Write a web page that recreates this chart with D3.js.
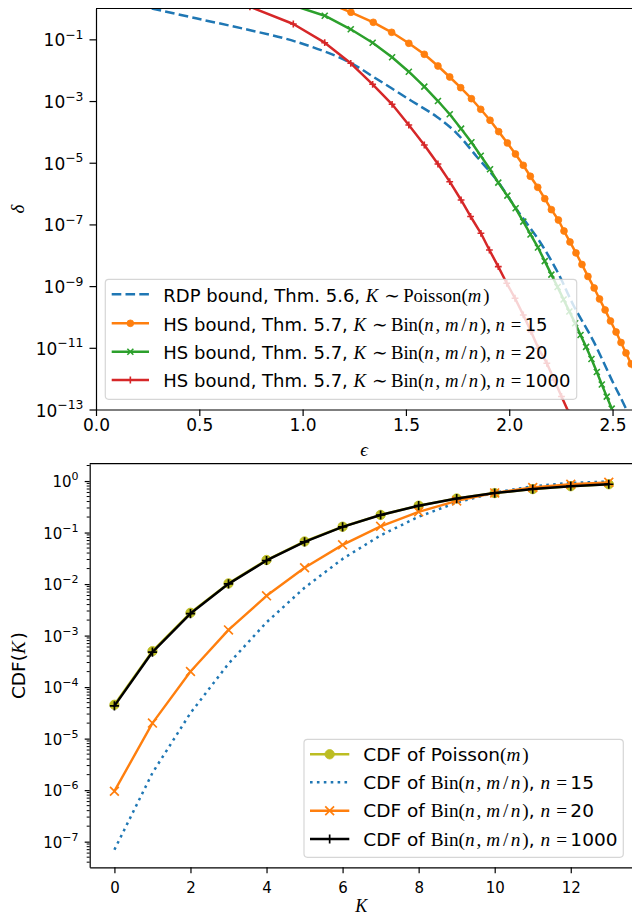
<!DOCTYPE html>
<html>
<head>
<meta charset="utf-8">
<script src="https://cdn.jsdelivr.net/npm/d3@7"></script>
<style>
  body { margin: 0; background: #fff; }
  svg { display: block; }
</style>
</head>
<body>
<svg id="fig" width="632" height="914"></svg>
<script>
// ---------- Upper panel: privacy profile delta(epsilon) ----------
const epsRdp   = [0.27, 0.484, 0.726, 0.968, 1.210, 1.359, 1.520, 1.649, 1.746, 1.843, 1.939, 2.043, 2.149, 2.237, 2.310, 2.407, 2.504, 2.545, 2.570];
const deltaRdp = [1.0, 0.48, 0.212, 0.0839, 0.0206, 5.19e-3, 1.08e-3, 3.11e-4, 9.0e-5, 1.57e-5, 2.76e-6, 2.63e-7, 2.70e-8, 2.61e-9, 2.45e-10, 1.67e-11, 7.10e-13, 2.04e-13, 8.97e-14];

const epsHs15   = [1.107, 1.234, 1.342, 1.431, 1.514, 1.589, 1.655, 1.712, 1.765, 1.817, 1.862, 1.907, 1.949, 1.991, 2.030, 2.068, 2.102, 2.138, 2.172, 2.204, 2.238, 2.265, 2.294, 2.323, 2.352, 2.381, 2.411, 2.437, 2.464, 2.490, 2.517, 2.541, 2.565, 2.590, 2.614];
const deltaHs15 = [1.69, 0.753, 0.357, 0.169, 0.0745, 0.0328, 0.01368, 6.02e-3, 2.71e-3, 1.19e-3, 5.40e-4, 2.38e-4, 1.02e-4, 4.37e-5, 1.92e-5, 8.27e-6, 3.64e-6, 1.60e-6, 6.84e-7, 3.01e-7, 1.39e-7, 6.13e-8, 2.70e-8, 1.19e-8, 5.03e-9, 2.06e-9, 8.71e-10, 3.83e-10, 1.69e-10, 7.42e-11, 3.26e-11, 1.49e-11, 6.81e-12, 3.00e-12, 1.32e-12];

const epsHs20   = [0.955, 1.107, 1.233, 1.339, 1.433, 1.514, 1.589, 1.655, 1.712, 1.767, 1.817, 1.862, 1.907, 1.947, 1.991, 2.031, 2.068, 2.103, 2.139, 2.172, 2.204, 2.234, 2.263, 2.291, 2.319, 2.345, 2.372, 2.398, 2.424, 2.448, 2.472, 2.496];
const deltaHs20 = [1.25, 0.584, 0.212, 0.0779, 0.0262, 8.94e-3, 2.92e-3, 1.00e-3, 3.72e-4, 1.27e-4, 4.60e-5, 1.69e-5, 6.13e-6, 2.26e-6, 8.55e-7, 3.34e-7, 1.23e-7, 4.72e-8, 1.79e-8, 6.44e-9, 2.35e-9, 9.38e-10, 3.69e-10, 1.51e-10, 6.25e-11, 2.61e-11, 1.07e-11, 4.35e-12, 1.65e-12, 6.49e-13, 2.61e-13, 1.07e-13];

const epsHs1000   = [0.745, 0.955, 1.107, 1.233, 1.339, 1.433, 1.514, 1.589, 1.655, 1.712, 1.767, 1.813, 1.863, 1.904, 1.947, 1.988, 2.028, 2.068, 2.106, 2.141, 2.182, 2.218, 2.253, 2.289];
const deltaHs1000 = [1.135, 0.3145, 0.0779, 0.01674, 3.49e-3, 7.84e-4, 1.67e-4, 3.76e-5, 9.11e-6, 2.43e-6, 6.20e-7, 1.81e-7, 5.16e-8, 1.48e-8, 4.27e-9, 1.24e-9, 4.04e-10, 1.16e-10, 3.34e-11, 9.67e-12, 3.16e-12, 9.07e-13, 2.65e-13, 7.73e-14];

const epsTicks   = [0, 0.5, 1.0, 1.5, 2.0, 2.5];
const deltaTicks = [1e-1, 1e-3, 1e-5, 1e-7, 1e-9, 1e-11, 1e-13];

// ---------- Lower panel: CDF of K ----------
const kValues     = [0, 1, 2, 3, 4, 5, 6, 7, 8, 9, 10, 11, 12, 13];
const cdfPoisson  = [4.54e-5, 4.99e-4, 2.77e-3, 1.03e-2, 2.93e-2, 6.71e-2, 0.130, 0.220, 0.333, 0.458, 0.583, 0.697, 0.792, 0.865];
const cdfBin15    = [6.97e-8, 2.16e-6, 3.14e-5, 2.85e-4, 1.81e-3, 8.50e-3, 3.08e-2, 8.82e-2, 0.203, 0.382, 0.596, 0.791, 0.921, 0.981];
const cdfBin20    = [9.54e-7, 2.00e-5, 2.01e-4, 1.29e-3, 5.91e-3, 2.07e-2, 5.77e-2, 0.132, 0.252, 0.412, 0.588, 0.748, 0.868, 0.942];
const cdfBin1000  = [4.32e-5, 4.79e-4, 2.68e-3, 1.01e-2, 2.87e-2, 6.61e-2, 0.129, 0.219, 0.332, 0.457, 0.583, 0.697, 0.793, 0.866];

const kTicks   = [0, 2, 4, 6, 8, 10, 12];
const cdfTicks = [1e0, 1e-1, 1e-2, 1e-3, 1e-4, 1e-5, 1e-6, 1e-7];

// ---------- Legend labels (segments: sans text, roman math, italic math) ----------
const legendTop = [
  [["sans", "RDP bound, Thm. 5.6, "], ["it", "K"], ["rel", "\u223C"], ["rm", "Poisson("], ["it", "m"], ["rm", ")"]],
  [["sans", "HS bound, Thm. 5.7, "], ["it", "K"], ["rel", "\u223C"], ["rm", "Bin("], ["it", "n"], ["rm", ", "], ["it", "m"], ["rm", "/"], ["it", "n"], ["rm", "), "], ["it", "n"], ["rel", "="], ["sans", "15"]],
  [["sans", "HS bound, Thm. 5.7, "], ["it", "K"], ["rel", "\u223C"], ["rm", "Bin("], ["it", "n"], ["rm", ", "], ["it", "m"], ["rm", "/"], ["it", "n"], ["rm", "), "], ["it", "n"], ["rel", "="], ["sans", "20"]],
  [["sans", "HS bound, Thm. 5.7, "], ["it", "K"], ["rel", "\u223C"], ["rm", "Bin("], ["it", "n"], ["rm", ", "], ["it", "m"], ["rm", "/"], ["it", "n"], ["rm", "), "], ["it", "n"], ["rel", "="], ["sans", "1000"]]
];
const legendBottom = [
  [["sans", "CDF of Poisson"], ["rm", "("], ["it", "m"], ["rm", ")"]],
  [["sans", "CDF of "], ["rm", "Bin("], ["it", "n"], ["rm", ", "], ["it", "m"], ["rm", "/"], ["it", "n"], ["rm", ")"], ["sans", ", "], ["it", "n"], ["rel", "="], ["sans", "15"]],
  [["sans", "CDF of "], ["rm", "Bin("], ["it", "n"], ["rm", ", "], ["it", "m"], ["rm", "/"], ["it", "n"], ["rm", ")"], ["sans", ", "], ["it", "n"], ["rel", "="], ["sans", "20"]],
  [["sans", "CDF of "], ["rm", "Bin("], ["it", "n"], ["rm", ", "], ["it", "m"], ["rm", "/"], ["it", "n"], ["rm", ")"], ["sans", ", "], ["it", "n"], ["rel", "="], ["sans", "1000"]]
];

// ---------- Drawing ----------
const SANS  = "'DejaVu Sans', sans-serif";
const SERIF = "'Liberation Serif', 'DejaVu Serif', serif";
const C = { blue: "#1f77b4", orange: "#ff7f0e", green: "#2ca02c", red: "#d62728", olive: "#bcbd22", black: "#000000" };

const svg = d3.select("#fig");
const defs = svg.append("defs");

function clipRect(id, x0, y0, x1, y1) {
  defs.append("clipPath").attr("id", id).append("rect")
    .attr("x", x0).attr("y", y0).attr("width", x1 - x0).attr("height", y1 - y0);
}

function drawMarker(g, type, cx, cy, s, color, sw) {
  if (type === "o") {
    g.append("circle").attr("cx", cx).attr("cy", cy).attr("r", s).attr("fill", color).attr("stroke", color).attr("stroke-width", 0.8);
  } else if (type === "x") {
    g.append("path").attr("d", `M${cx - s},${cy - s}L${cx + s},${cy + s}M${cx - s},${cy + s}L${cx + s},${cy - s}`)
      .attr("stroke", color).attr("stroke-width", sw).attr("fill", "none");
  } else if (type === "+") {
    g.append("path").attr("d", `M${cx - s},${cy}L${cx + s},${cy}M${cx},${cy - s}L${cx},${cy + s}`)
      .attr("stroke", color).attr("stroke-width", sw).attr("fill", "none");
  }
}

function drawSeries(g, xs, ys, sx, sy, st) {
  const pts = xs.map((x, i) => [x, ys[i]]);
  const line = d3.line().x(d => sx(d[0])).y(d => sy(d[1])).curve(st.curve || d3.curveLinear);
  g.append("path").datum(pts).attr("d", line)
    .attr("fill", "none").attr("stroke", st.color).attr("stroke-width", st.lw)
    .attr("stroke-dasharray", st.dash || null).attr("stroke-linejoin", "round")
    .attr("stroke-linecap", st.dash ? "butt" : "round");
  if (st.marker) {
    pts.forEach(d => drawMarker(g, st.marker, sx(d[0]), sy(d[1]), st.ms, st.mcolor || st.color, st.mew));
  }
}

// mixed text: plain sans words plus math pieces (roman, italic, relations)
function addLabelSegments(t, segs, fs) {
  const mfs = fs * 1.04;
  segs.forEach(s => {
    const kind = s[0];
    const sp = t.append("tspan").text(kind === "rel" ? "\u00A0" + s[1] + "\u00A0" : s[1]);
    if (kind === "sans") {
      sp.attr("font-family", SANS);
    } else {
      sp.attr("font-family", SERIF).attr("font-size", mfs);
      if (kind === "it") sp.attr("font-style", "italic").attr("letter-spacing", fs * 0.11);
      if (kind === "rm" && s[1] === "/") sp.attr("letter-spacing", fs * 0.12).attr("dx", fs * 0.05);
      if (kind === "rel") sp.attr("letter-spacing", -fs * 0.04);
    }
  });
}

function drawLegend(g, box, rows, styles, o) {
  g.append("rect").attr("x", box.x).attr("y", box.y).attr("width", box.w).attr("height", box.h)
    .attr("rx", 3.5).attr("fill", "#fff").attr("fill-opacity", 0.8)
    .attr("stroke", "#cccccc").attr("stroke-opacity", 0.8).attr("stroke-width", 1.2);
  rows.forEach((segs, i) => {
    const cy = o.rowY[i], st = styles[i];
    g.append("line").attr("x1", o.h0).attr("x2", o.h1).attr("y1", cy).attr("y2", cy)
      .attr("stroke", st.color).attr("stroke-width", st.lw).attr("stroke-dasharray", st.dash || null);
    if (st.marker) drawMarker(g, st.marker, (o.h0 + o.h1) / 2, cy, st.ms, st.mcolor || st.color, st.mew);
    const t = g.append("text").attr("x", o.textX).attr("y", cy + o.base).attr("font-size", o.fs).attr("fill", "#000");
    addLabelSegments(t, segs, o.fs);
  });
}

function logTickLabels(g, scale, values, xRight, base, fs, supFs, supShift) {
  values.forEach(v => {
    const e = Math.round(Math.log10(v));
    const t = g.append("text").attr("x", xRight).attr("y", scale(v) + base)
      .attr("text-anchor", "end").attr("font-family", SANS).attr("font-size", fs).attr("fill", "#000");
    t.append("tspan").text("10");
    t.append("tspan").text(e < 0 ? "\u2212" + (-e) : String(e)).attr("font-size", supFs).attr("dy", -supShift);
  });
}

function styleAxis(g) {
  g.attr("font-family", null).attr("font-size", null);
  g.selectAll(".domain").attr("stroke", "#000").attr("stroke-width", 1.2);
  g.selectAll(".tick line").attr("stroke", "#000").attr("stroke-width", 1.2);
}

// ===== Upper panel =====
const A = { l: 96, r: 633.2, t: 8.5, b: 409.5 };
const x1 = d3.scaleLinear().domain([0, 2.6]).range([A.l, A.r]);
const y1 = d3.scaleLog().domain([1e-13, 1]).range([A.b, A.t]);
clipRect("clipTop", A.l, A.t, A.r, A.b);

const topStyles = [
  { color: C.blue,   lw: 2.5, dash: "9.6,4.2", curve: d3.curveCatmullRom.alpha(0.5) },
  { color: C.orange, lw: 2.5, marker: "o", ms: 3.4 },
  { color: C.green,  lw: 2.5, marker: "x", ms: 3.0, mew: 1.6 },
  { color: C.red,    lw: 2.5, marker: "+", ms: 3.4, mew: 1.6 }
];
const gTop = svg.append("g").attr("clip-path", "url(#clipTop)");
drawSeries(gTop, epsRdp, deltaRdp, x1, y1, topStyles[0]);
drawSeries(gTop, epsHs15, deltaHs15, x1, y1, topStyles[1]);
drawSeries(gTop, epsHs20, deltaHs20, x1, y1, topStyles[2]);
drawSeries(gTop, epsHs1000, deltaHs1000, x1, y1, topStyles[3]);

const gx1 = svg.append("g").attr("transform", `translate(0,${A.b})`)
  .call(d3.axisBottom(x1).tickValues(epsTicks).tickFormat(d3.format(".1f")).tickSize(6.5).tickSizeOuter(0));
styleAxis(gx1);
gx1.selectAll(".tick text").attr("y", 21.5).attr("dy", null)
  .attr("font-family", SANS).attr("font-size", 17).attr("fill", "#000");

const gy1 = svg.append("g").attr("transform", `translate(${A.l},0)`)
  .call(d3.axisLeft(y1).tickValues(deltaTicks).tickFormat("").tickSize(6.5).tickSizeOuter(0));
styleAxis(gy1);
logTickLabels(gy1, y1, deltaTicks, -12.5, 7, 17, 12.4, 7.5);

svg.append("line").attr("x1", A.l).attr("x2", A.r).attr("y1", A.t).attr("y2", A.t)
  .attr("stroke", "#000").attr("stroke-width", 1.2);

svg.append("text").attr("x", (A.l + 632) / 2).attr("y", 455.5).attr("text-anchor", "middle")
  .attr("font-family", SERIF).attr("font-style", "italic").attr("font-size", 19).text("\u03F5");
svg.append("text").attr("transform", `translate(24,${(A.t + A.b) / 2}) rotate(-90)`).attr("text-anchor", "middle")
  .attr("font-family", SERIF).attr("font-style", "italic").attr("font-size", 19).text("\u03B4");

drawLegend(svg.append("g"), { x: 105.3, y: 279.3, w: 471.4, h: 120 }, legendTop, topStyles,
  { rowY: [294.3, 323.3, 351.7, 380], h0: 111.7, h1: 149, textX: 163.3, base: 7.2, fs: 18 });

// ===== Lower panel =====
const B = { l: 89.7, r: 633.5, t: 463.7, b: 867.3 };
const x2 = d3.scaleLinear().domain([-0.65, 13.65]).range([B.l, B.r]);
const y2 = d3.scaleLog().domain([3.18e-8, 2.17]).range([B.b, B.t]);
clipRect("clipBot", B.l, B.t, B.r, B.b);

const botStyles = [
  { color: C.olive,  lw: 2.5, marker: "o", ms: 4.7 },
  { color: C.blue,   lw: 2.5, dash: "2.6,4.3" },
  { color: C.orange, lw: 2.4, marker: "x", ms: 4.4, mew: 1.7 },
  { color: C.black,  lw: 2.5, marker: "+", ms: 4.6, mew: 1.7 }
];
const gBot = svg.append("g").attr("clip-path", "url(#clipBot)");
drawSeries(gBot, kValues, cdfPoisson, x2, y2, botStyles[0]);
drawSeries(gBot, kValues, cdfBin15, x2, y2, botStyles[1]);
drawSeries(gBot, kValues, cdfBin20, x2, y2, botStyles[2]);
drawSeries(gBot, kValues, cdfBin1000, x2, y2, botStyles[3]);

const gx2 = svg.append("g").attr("transform", `translate(0,${B.b})`)
  .call(d3.axisBottom(x2).tickValues(kTicks).tickSize(6).tickSizeOuter(0));
styleAxis(gx2);
gx2.selectAll(".tick text").attr("y", 25.5).attr("dy", null)
  .attr("font-family", SANS).attr("font-size", 15).attr("fill", "#000");

// minor ticks for every decade inside the visible range
const [lo2, hi2] = y2.domain();
const minorTicks = [];
for (let e = Math.floor(Math.log10(lo2)); e <= Math.ceil(Math.log10(hi2)); e++) {
  for (let m = 2; m <= 9; m++) {
    const v = m * Math.pow(10, e);
    if (v >= lo2 && v <= hi2) minorTicks.push(v);
  }
}
const gy2 = svg.append("g").attr("transform", `translate(${B.l},0)`)
  .call(d3.axisLeft(y2).tickValues(cdfTicks).tickFormat("").tickSize(5).tickSizeOuter(0));
styleAxis(gy2);
gy2.selectAll(".minor").data(minorTicks).enter().append("line").attr("class", "minor")
  .attr("x1", -3).attr("x2", 0).attr("y1", d => y2(d)).attr("y2", d => y2(d))
  .attr("stroke", "#000").attr("stroke-width", 1);
logTickLabels(gy2, y2, cdfTicks, -11.2, 6, 15, 11, 6.7);

svg.append("line").attr("x1", B.l).attr("x2", B.r).attr("y1", B.t).attr("y2", B.t)
  .attr("stroke", "#000").attr("stroke-width", 1.2);

svg.append("text").attr("x", (B.l + 632) / 2 + 0.5).attr("y", 911.5).attr("text-anchor", "middle")
  .attr("font-family", SERIF).attr("font-style", "italic").attr("font-size", 18).text("K");
const yl2 = svg.append("text").attr("transform", `translate(25,${(B.t + B.b) / 2}) rotate(-90)`)
  .attr("text-anchor", "middle").attr("font-size", 18.5).attr("fill", "#000");
addLabelSegments(yl2, [["sans", "CDF("], ["it", "K"], ["sans", ")"]], 18.5);

drawLegend(svg.append("g"), { x: 304, y: 739.3, w: 319.3, h: 118 }, legendBottom, botStyles,
  { rowY: [754.3, 782.3, 810.7, 839], h0: 310, h1: 349.3, textX: 363.3, base: 6.6, fs: 18.5 });
</script>
</body>
</html>
